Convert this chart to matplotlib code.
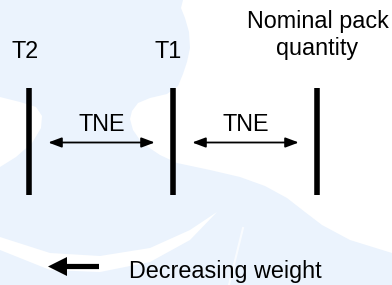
import matplotlib
matplotlib.use("Agg")
import matplotlib.pyplot as plt
from matplotlib.patches import Polygon, Rectangle

# ---- data ----
limit_names = ["T2", "T1", "Nominal pack\nquantity"]
limit_values = [-2, -1, 0]          # in units of TNE below nominal quantity
gap_labels = ["TNE", "TNE"]
direction_label = "Decreasing weight"

FONT = ["Liberation Sans", "DejaVu Sans"]
plt.rcParams["font.family"] = FONT
LB = "#EBF3FD"
FS = 16.8

fig = plt.figure(figsize=(3.92, 2.85), dpi=100)

# background watermark (pixel coordinates)
bg = fig.add_axes([0, 0, 1, 1])
bg.set_xlim(0, 392); bg.set_ylim(285, 0); bg.axis("off")
bg.add_patch(Rectangle((0, 0), 392, 285, color=LB, lw=0))
upper_white = [(183, 0), (181, 8), (185, 18), (189, 32), (190, 48), (187, 62), (183, 74),
               (178, 86), (167, 94), (150, 98), (138, 103), (132, 111), (130, 119),
               (133, 130), (142, 143), (160, 155), (177, 163), (210, 170), (240, 177),
               (265, 186), (287, 198), (305, 212), (322, 225), (350, 240), (392, 253),
               (392, 0)]
left_white = [(0, 97), (20, 102), (36, 107), (42, 116), (41, 128), (32, 143), (16, 157), (0, 167)]
stripe_up = [(0, 237), (50, 253), (100, 256), (150, 248), (190, 230), (217, 212)]
stripe_lo = [(0, 250), (50, 270), (100, 272), (150, 262), (190, 240), (217, 212)]
for poly in (upper_white, left_white, stripe_up + stripe_lo[::-1]):
    bg.add_patch(Polygon(poly, closed=True, color="white", lw=0))
bg.plot([243, 229], [228, 285], color="white", lw=1.5, alpha=0.7)

# direction arrow (pixel coordinates)
y_dir = 266.5
bg.add_patch(Polygon([(48, y_dir), (67, y_dir - 9.5), (67, y_dir - 2.6), (99, y_dir - 2.6),
                      (99, y_dir + 2.6), (67, y_dir + 2.6), (67, y_dir + 9.5)],
                     closed=True, color="black", lw=0))

# main axes: x in TNE units, y in pixels (top = 0)
px_per_unit = 144.0
x_nom_px = 317.5
ax = fig.add_axes([0, 0, 1, 1], facecolor="none")
ax.set_xlim(-x_nom_px / px_per_unit, (392 - x_nom_px) / px_per_unit)
ax.set_ylim(285, 0)
ax.axis("off")

bar_top, bar_bot = 88, 195
for v in limit_values:
    ax.plot([v, v], [bar_top, bar_bot], color="black", lw=4.0, solid_capstyle="butt")

label_offsets = [-0.03, -0.04, 0.0]
for name, v, off in zip(limit_names, limit_values, label_offsets):
    if "\n" in name:
        l1, l2 = name.split("\n")
        ax.text(v + off, 28, l1, ha="center", va="baseline", fontsize=FS)
        ax.text(v + off, 55, l2, ha="center", va="baseline", fontsize=FS)
    else:
        ax.text(v + off, 58, name, ha="center", va="baseline", fontsize=FS)

# double arrows between limits
pad = 0.13
for (a, b), lab in zip(zip(limit_values[:-1], limit_values[1:]), gap_labels):
    ax.annotate("", xy=(a + pad, 142.5), xytext=(b - pad, 142.5),
                arrowprops=dict(arrowstyle="<|-|>,head_length=0.8,head_width=0.3",
                                color="black", lw=1.3, shrinkA=0, shrinkB=0))
    ax.text((a + b) / 2, 131, lab, ha="center", va="baseline", fontsize=FS)

ax.text(limit_values[0] + (129 - 29.5) / px_per_unit, 278, direction_label,
        ha="left", va="baseline", fontsize=FS)

fig.savefig("out.png", dpi=100)
